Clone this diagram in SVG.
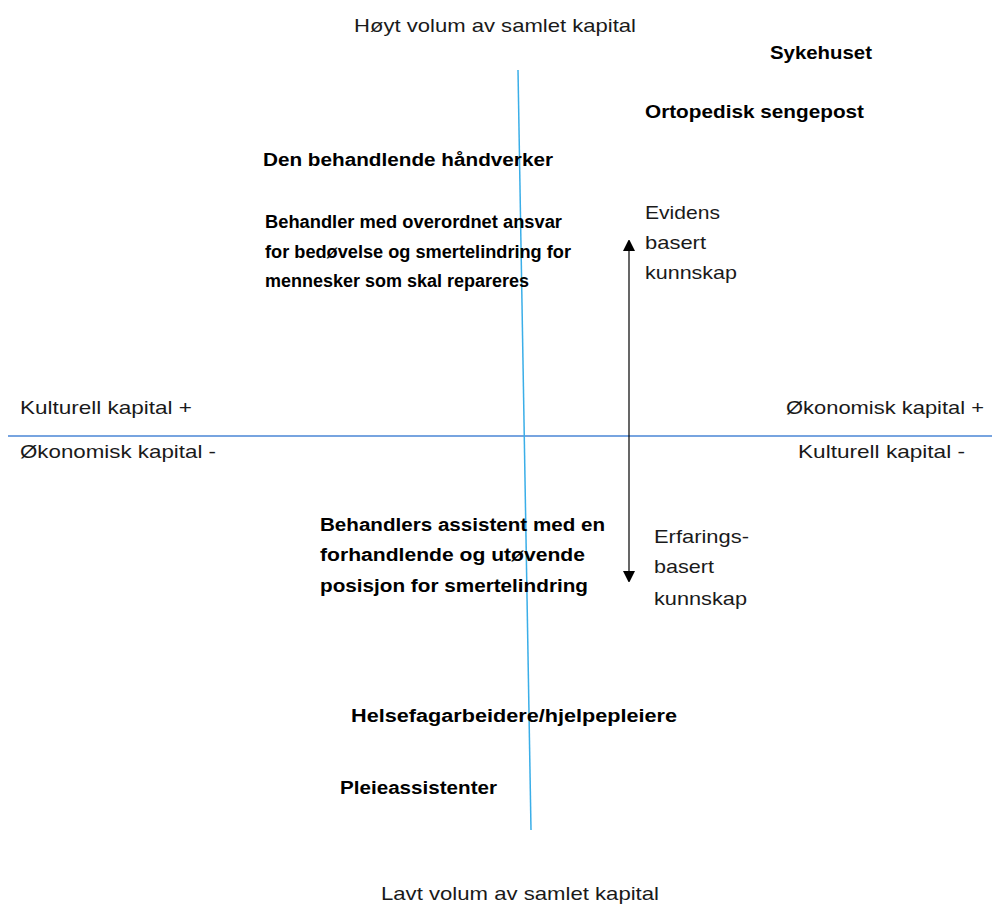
<svg xmlns="http://www.w3.org/2000/svg" width="992" height="907" viewBox="0 0 992 907">
<style>
.n{font-family:"Liberation Sans",Arial,sans-serif;font-size:19px;fill:#1a1a1a}
.b{font-family:"Liberation Sans",Arial,sans-serif;font-size:18px;font-weight:bold;fill:#000}
</style>
<defs>
<marker id="ah" markerWidth="11" markerHeight="12" refX="6" refY="6" orient="auto-start-reverse" markerUnits="userSpaceOnUse">
<path d="M0,0 L12,6 L0,12 z" fill="#000"/>
</marker>
</defs>
<rect width="992" height="907" fill="#fff"/>
<g id="connectors">
<line x1="8" y1="436" x2="992" y2="436" stroke="#4a86d6" stroke-width="1.3"/>
<line x1="518" y1="70" x2="531" y2="830" stroke="#3aaee8" stroke-width="1.5"/>
<line x1="629" y1="245" x2="629" y2="577" stroke="#000" stroke-width="1.2" marker-start="url(#ah)" marker-end="url(#ah)"/>
</g>
<g id="top-label"><text class="n" x="354" y="32" textLength="282" lengthAdjust="spacingAndGlyphs">Høyt volum av samlet kapital</text></g>
<g id="bottom-label"><text class="n" x="381" y="900" textLength="278" lengthAdjust="spacingAndGlyphs">Lavt volum av samlet kapital</text></g>
<g id="sykehuset"><text class="b" x="770" y="59" textLength="102" lengthAdjust="spacingAndGlyphs">Sykehuset</text></g>
<g id="ortopedisk"><text class="b" x="645" y="118" textLength="219" lengthAdjust="spacingAndGlyphs">Ortopedisk sengepost</text></g>
<g id="handverker"><text class="b" x="263" y="166" textLength="290" lengthAdjust="spacingAndGlyphs">Den behandlende håndverker</text></g>
<g id="behandler">
<text class="b" x="265" y="228" textLength="297" lengthAdjust="spacingAndGlyphs">Behandler med overordnet ansvar</text>
<text class="b" x="265" y="258" textLength="306" lengthAdjust="spacingAndGlyphs">for bedøvelse og smertelindring for</text>
<text class="b" x="265" y="287" textLength="264" lengthAdjust="spacingAndGlyphs">mennesker som skal repareres</text>
</g>
<g id="evidens">
<text class="n" x="645" y="219" textLength="75" lengthAdjust="spacingAndGlyphs">Evidens</text>
<text class="n" x="645" y="249" textLength="61" lengthAdjust="spacingAndGlyphs">basert</text>
<text class="n" x="645" y="279" textLength="92" lengthAdjust="spacingAndGlyphs">kunnskap</text>
</g>
<g id="left-axis">
<text class="n" x="20" y="414" textLength="172" lengthAdjust="spacingAndGlyphs">Kulturell kapital +</text>
<text class="n" x="20" y="458" textLength="196" lengthAdjust="spacingAndGlyphs">Økonomisk kapital -</text>
</g>
<g id="right-axis">
<text class="n" x="786" y="414" textLength="198" lengthAdjust="spacingAndGlyphs">Økonomisk kapital +</text>
<text class="n" x="798" y="458" textLength="167" lengthAdjust="spacingAndGlyphs">Kulturell kapital -</text>
</g>
<g id="assistent">
<text class="b" x="320" y="531" textLength="285" lengthAdjust="spacingAndGlyphs">Behandlers assistent med en</text>
<text class="b" x="320" y="561" textLength="265" lengthAdjust="spacingAndGlyphs">forhandlende og utøvende</text>
<text class="b" x="320" y="592" textLength="268" lengthAdjust="spacingAndGlyphs">posisjon for smertelindring</text>
</g>
<g id="erfarings">
<text class="n" x="654" y="543" textLength="95" lengthAdjust="spacingAndGlyphs">Erfarings-</text>
<text class="n" x="654" y="573" textLength="60" lengthAdjust="spacingAndGlyphs">basert</text>
<text class="n" x="654" y="605" textLength="93" lengthAdjust="spacingAndGlyphs">kunnskap</text>
</g>
<g id="helsefag"><text class="b" x="351" y="722" textLength="326" lengthAdjust="spacingAndGlyphs">Helsefagarbeidere/hjelpepleiere</text></g>
<g id="pleie"><text class="b" x="340" y="794" textLength="157" lengthAdjust="spacingAndGlyphs">Pleieassistenter</text></g>
</svg>
